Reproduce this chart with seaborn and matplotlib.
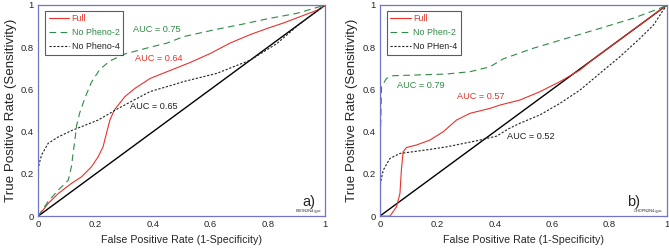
import numpy as np
import pandas as pd
import seaborn as sns
import matplotlib.pyplot as plt

# painel a) ESON2N4
a_full_x = [0, 0.035, 0.07, 0.116, 0.151, 0.186, 0.209, 0.226, 0.238, 0.25, 0.265, 0.279, 0.302, 0.337, 0.39,
            0.46, 0.53, 0.599, 0.669, 0.739, 0.80, 0.855, 0.913, 0.971, 1.0]
a_full_y = [0, 0.06, 0.107, 0.155, 0.186, 0.234, 0.281, 0.328, 0.392, 0.455, 0.502, 0.526, 0.566, 0.605, 0.652,
            0.69, 0.728, 0.77, 0.82, 0.86, 0.89, 0.915, 0.945, 0.975, 1.0]
a_np2_x = [0, 0.035, 0.07, 0.105, 0.116, 0.122, 0.128, 0.134, 0.145, 0.163, 0.186, 0.215, 0.25, 0.302, 0.39,
           0.45, 0.506, 0.622, 0.715, 0.80, 0.90, 1.0]
a_np2_y = [0, 0.07, 0.123, 0.17, 0.235, 0.30, 0.36, 0.43, 0.49, 0.56, 0.635, 0.695, 0.735, 0.768, 0.80,
           0.82, 0.85, 0.885, 0.91, 0.935, 0.96, 1.0]
a_np4_x = [0, 0.004, 0.012, 0.035, 0.07, 0.116, 0.163, 0.209, 0.279, 0.348, 0.39, 0.453, 0.506, 0.622, 0.739,
           0.832, 0.902, 0.97, 1.0]
a_np4_y = [0.22, 0.25, 0.29, 0.345, 0.375, 0.405, 0.43, 0.455, 0.51, 0.56, 0.59, 0.615, 0.637, 0.676, 0.739,
           0.818, 0.90, 0.97, 1.0]

# painel b) CHOPN2N4
b_full_x = [0, 0.035, 0.058, 0.07, 0.075, 0.081, 0.093, 0.128, 0.174, 0.221, 0.267, 0.314, 0.383, 0.418,
            0.488, 0.557, 0.627, 0.697, 0.74, 0.85, 1.0]
b_full_y = [0, 0.0, 0.044, 0.107, 0.218, 0.305, 0.325, 0.337, 0.36, 0.40, 0.455, 0.487, 0.51, 0.526,
            0.55, 0.589, 0.637, 0.692, 0.74, 0.85, 1.0]
b_np2_x = [0, 0.0, 0.006, 0.023, 0.046, 0.116, 0.232, 0.314, 0.383, 0.43, 0.534, 0.65, 0.766, 0.882, 0.975, 1.0]
b_np2_y = [0, 0.534, 0.613, 0.652, 0.665, 0.668, 0.673, 0.684, 0.707, 0.745, 0.795, 0.842, 0.889, 0.937, 0.984, 1.0]
b_np4_x = [0, 0.004, 0.012, 0.035, 0.07, 0.116, 0.174, 0.232, 0.29, 0.348, 0.407, 0.45, 0.488, 0.557, 0.627,
           0.697, 0.766, 0.836, 0.906, 0.953, 0.987, 1.0]
b_np4_y = [0.13, 0.17, 0.218, 0.273, 0.297, 0.305, 0.316, 0.328, 0.344, 0.36, 0.379, 0.415, 0.44, 0.479, 0.534,
           0.597, 0.676, 0.755, 0.842, 0.905, 0.976, 1.0]

paineis = [
    dict(curvas=[(a_full_x, a_full_y), (a_np2_x, a_np2_y), (a_np4_x, a_np4_y)],
         nomes=['Full', 'No Pheno-2', 'No Pheno-4'],
         auc=['0.64', '0.75', '0.65'],
         auc_pos=[(0.337, 0.747), (0.33, 0.886), (0.32, 0.52)],
         letra='a)', letra_x=0.92, arquivo='ESON2N4.gpc'),
    dict(curvas=[(b_full_x, b_full_y), (b_np2_x, b_np2_y), (b_np4_x, b_np4_y)],
         nomes=['Full', 'No Phen-2', 'No PHen-4'],
         auc=['0.57', '0.79', '0.52'],
         auc_pos=[(0.27, 0.565), (0.061, 0.62), (0.444, 0.375)],
         letra='b)', letra_x=0.86, arquivo='CHOPN2N4.gpc'),
]

sns.set_style('white')
plt.rcParams['font.family'] = ['Liberation Sans', 'DejaVu Sans']

cores = ['#e8322a', '#2e8b47', '#222222']
estilos = ['-', (0, (6, 4)), (0, (2, 1.5))]
cor_moldura = '#7075c8'

fig, axs = plt.subplots(1, 2, figsize=(6.69, 2.49), dpi=100)
fig.subplots_adjust(left=0.057, right=0.997, top=0.98, bottom=0.132, wspace=0.19)

for ax, p in zip(axs, paineis):
    sns.lineplot(x=[0, 1], y=[0, 1], color='black', lw=1.0, ax=ax)
    for (cx, cy), nome, cor, ls in zip(p['curvas'], p['nomes'], cores, estilos):
        df = pd.DataFrame({'x': cx, 'y': cy})
        sns.lineplot(data=df, x='x', y='y', sort=False, color=cor, lw=0.8,
                     linestyle=ls, label=nome, ax=ax)
    for txt, (tx, ty), cor in zip(p['auc'], p['auc_pos'], cores):
        ax.text(tx, ty, 'AUC = ' + txt, color=cor, fontsize=6.6, va='center')
    ax.text(p['letra_x'], 0.066, p['letra'], fontsize=10.5, va='center')
    ax.text(0.985, 0.024, p['arquivo'], fontsize=2.8, ha='right', va='center')

    ax.set_xlim(0, 1)
    ax.set_ylim(0, 1)
    ax.set_xticks([0, 0.2, 0.4, 0.6, 0.8, 1])
    ax.set_yticks([0, 0.2, 0.4, 0.6, 0.8, 1])
    ax.set_xticklabels(['0', '0.2', '0.4', '0.6', '0.8', '1'])
    ax.set_yticklabels(['0', '0.2', '0.4', '0.6', '0.8', '1'])
    ax.tick_params(labelsize=6.8, direction='in', length=2, color='#aaaaaa', pad=3)
    ax.set_xlabel('False Positive Rate (1-Specificity)', fontsize=7.7, labelpad=4)
    ax.set_ylabel('True Positive Rate (Sensitivity)', fontsize=9.6, labelpad=3)
    for s in ax.spines.values():
        s.set_color(cor_moldura)
        s.set_linewidth(0.9)

    leg = ax.legend(loc='upper left', fontsize=6.4, frameon=True, fancybox=False,
                    edgecolor='#333333', handlelength=2.3, borderpad=0.4,
                    labelspacing=0.55, handletextpad=0.3, borderaxespad=0,
                    bbox_to_anchor=(0.024, 0.972))
    leg.get_frame().set_linewidth(0.8)
    for t, cor in zip(leg.get_texts(), cores):
        t.set_color(cor)

plt.savefig('out.png', dpi=100)
